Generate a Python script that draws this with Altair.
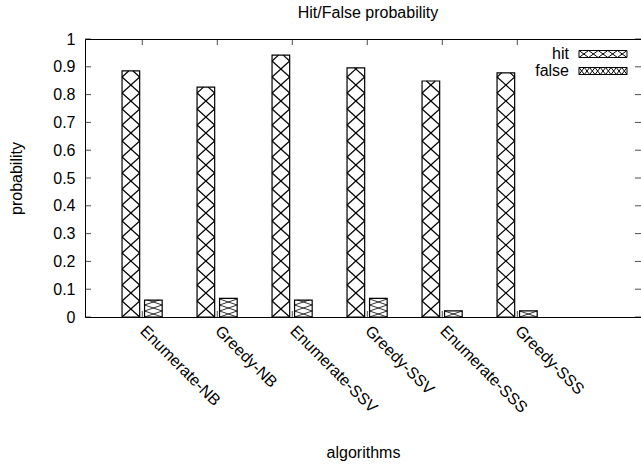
import json
import numpy as np
import pandas as pd
import altair as alt

# ---------------- data ----------------
categories = ["Enumerate-NB", "Greedy-NB", "Enumerate-SSV",
              "Greedy-SSV", "Enumerate-SSS", "Greedy-SSS"]
series_names = ["hit", "false"]
hit_values = [0.885, 0.827, 0.942, 0.896, 0.849, 0.878]
false_values = [0.061, 0.067, 0.061, 0.067, 0.022, 0.022]
y_tick_values = [0.0, 0.1, 0.2, 0.3, 0.4, 0.5, 0.6, 0.7, 0.8, 0.9, 1.0]

# ---------------- layout / style ----------------
FONT = "Liberation Sans"
FS = 16
W, H = 556, 278
PAD_L, PAD_T = 85, 39
PX_PER_CAT = 75.0
X_MIN = -0.764
TICK = 6
x_scale = alt.Scale(domain=[X_MIN, X_MIN + W / PX_PER_CAT], nice=False, zero=False)
y_scale = alt.Scale(domain=[0, 1], nice=False, zero=False)

bar_span = {"hit": (-0.27, -0.035), "false": (0.03, 0.265)}   # cluster offsets
hatch_px = {"hit": 16.0, "false": 6.0}                         # hatch period (px)

rows = []
for i, cat in enumerate(categories):
    for s, vals in zip(series_names, [hit_values, false_values]):
        a, b = bar_span[s]
        rows.append(dict(cat=cat, series=s, value=vals[i], x0=i + a, x1=i + b))
bars = pd.DataFrame(rows)


def hatch_segments(df):
    out = []
    for _, r in df.iterrows():
        p = hatch_px[r.series] / H        # period in y units
        v = r.value
        a, w = r.x0, r.x1 - r.x0
        n = int(np.ceil(v / p)) + 1
        for k in range(-1, n + 1):
            base = k * p
            t0 = max(0.0, -base / p)
            t1 = min(1.0, (v - base) / p)
            if t1 > t0:
                out.append(dict(series=r.series, x=a + w * t0, x2=a + w * t1,
                                y=base + p * t0, y2=base + p * t1))
            t0 = max(0.0, (base + p - v) / p)
            t1 = min(1.0, (base + p) / p)
            if t1 > t0:
                out.append(dict(series=r.series, x=a + w * t0, x2=a + w * t1,
                                y=base + p - p * t0, y2=base + p - p * t1))
    return pd.DataFrame(out)


hatch = hatch_segments(bars)
hatch_hit = hatch[hatch.series == "hit"]
hatch_false = hatch[hatch.series == "false"]


def swatch_path(n, hw=3.43, hh=0.5):
    step = 2 * hw / n
    xs = [-hw + step * j for j in range(n + 1)]
    a = "M" + " L".join(f"{x:.3f},{(hh if j % 2 else -hh):.3f}" for j, x in enumerate(xs))
    b = "M" + " L".join(f"{x:.3f},{(-hh if j % 2 else hh):.3f}" for j, x in enumerate(xs))
    rect = f"M{-hw:.3f},{-hh:.3f} L{hw:.3f},{-hh:.3f} L{hw:.3f},{hh:.3f} L{-hw:.3f},{hh:.3f} Z "
    return rect + a + " " + b


label_expr = json.dumps(categories) + "[datum.value]"
cat_ticks = list(range(len(categories)))

axis_bottom_labels = alt.Axis(
    orient="bottom", values=cat_ticks, labelExpr=label_expr, labelAngle=45,
    labelAlign="left", labelBaseline="middle", labelPadding=11, labelFontSize=FS,
    labelFont=FONT, labelColor="black", labelOverlap=False, labelFlush=False,
    ticks=False, tickSize=0, domain=True, domainColor="black", domainWidth=1,
    grid=False, title="algorithms", titleFont=FONT, titleFontSize=FS,
    titleFontWeight="normal", titleColor="black", titleY=140,
    titleBaseline="alphabetic")
axis_left_labels = alt.Axis(
    orient="left", values=y_tick_values, format=".1~f", labelFontSize=FS,
    labelFont=FONT, labelColor="black", labelPadding=10, ticks=False, tickSize=0,
    domain=True, domainColor="black", domainWidth=1, grid=False,
    title="probability", titleFont=FONT, titleFontSize=FS,
    titleFontWeight="normal", titleColor="black", titleX=-64,
    titleBaseline="alphabetic")
axis_top_domain = alt.Axis(orient="top", ticks=False, labels=False, domain=True,
                           domainColor="black", domainWidth=1, grid=False, title="")

fills = alt.Chart(bars).mark_rect(fill="white", strokeWidth=0).encode(
    x=alt.X("x0:Q", scale=x_scale, axis=axis_bottom_labels),
    x2="x1:Q",
    y=alt.Y("value:Q", scale=y_scale, axis=axis_left_labels),
    y2=alt.datum(0),
)

lines_hit = alt.Chart(hatch_hit).mark_rule(color="black", strokeWidth=1.2).encode(
    x=alt.X("x:Q", scale=x_scale, axis=None),
    x2="x2:Q",
    y=alt.Y("y:Q", scale=y_scale, axis=None),
    y2="y2:Q",
)

lines_false = alt.Chart(hatch_false).mark_rule(color="black", strokeWidth=0.8).encode(
    x=alt.X("x:Q", scale=x_scale, axis=axis_top_domain),
    x2="x2:Q",
    y=alt.Y("y:Q", scale=y_scale, axis=None),
    y2="y2:Q",
)

outlines = alt.Chart(bars).mark_rect(fillOpacity=0, stroke="black", strokeWidth=1.2).encode(
    x=alt.X("x0:Q", scale=x_scale, axis=None),
    x2="x1:Q",
    y=alt.Y("value:Q", scale=y_scale, axis=None),
    y2=alt.datum(0),
)

# ---- inward (gnuplot-style) tick marks on all four borders ----
ytick_df = pd.DataFrame({"v": y_tick_values})
xtick_df = pd.DataFrame({"v": cat_ticks})

ticks_left = alt.Chart(ytick_df).mark_tick(orient="horizontal", color="black",
                                           size=TICK, thickness=1).encode(
    x=alt.value(TICK / 2), y=alt.Y("v:Q", scale=y_scale, axis=None))
ticks_right = alt.Chart(ytick_df).mark_tick(orient="horizontal", color="black",
                                            size=TICK, thickness=1).encode(
    x=alt.value(W - TICK / 2), y=alt.Y("v:Q", scale=y_scale, axis=None))
ticks_bottom = alt.Chart(xtick_df).mark_tick(orient="vertical", color="black",
                                             size=TICK, thickness=1).encode(
    x=alt.X("v:Q", scale=x_scale, axis=None), y=alt.value(H - TICK / 2))
ticks_top = alt.Chart(xtick_df).mark_tick(orient="vertical", color="black",
                                          size=TICK, thickness=1).encode(
    x=alt.X("v:Q", scale=x_scale, axis=None), y=alt.value(TICK / 2))

# ---- key (gnuplot style: label left of a hatched swatch) ----
legend_df = pd.DataFrame({"series": series_names})
row_scale = alt.Scale(type="point", domain=series_names, range=[15, 32], padding=0)

key_text = alt.Chart(legend_df).mark_text(
    align="right", baseline="middle", font=FONT, fontSize=FS, color="black"
).encode(
    x=alt.value(484),
    y=alt.Y("series:N", scale=row_scale, axis=None),
    text="series:N",
)

key_swatch = alt.Chart(legend_df).mark_point(
    filled=True, fill="white", stroke="black", strokeWidth=1, size=196, opacity=1
).encode(
    x=alt.value(518),
    y=alt.Y("series:N", scale=row_scale, axis=None),
    shape=alt.Shape("series:N",
                    scale=alt.Scale(domain=series_names,
                                    range=[swatch_path(5), swatch_path(9)]),
                    legend=None),
)

chart = alt.layer(
    fills, lines_hit, lines_false, outlines,
    ticks_left, ticks_right, ticks_bottom, ticks_top,
    key_text, key_swatch
).resolve_axis(
    x="independent", y="independent"
).resolve_scale(y="independent").properties(
    width=W, height=H,
    title=alt.TitleParams("Hit/False probability", font=FONT, fontSize=FS,
                          fontWeight="normal", color="black", anchor="middle",
                          frame="group", offset=10, dx=5),
    autosize=alt.AutoSizeParams(type="none"),
    padding={"left": PAD_L, "top": PAD_T, "right": 0, "bottom": 466 - PAD_T - H},
).configure_view(stroke="transparent")

chart.save("out.html", embed_options={"renderer": "svg", "actions": False})
